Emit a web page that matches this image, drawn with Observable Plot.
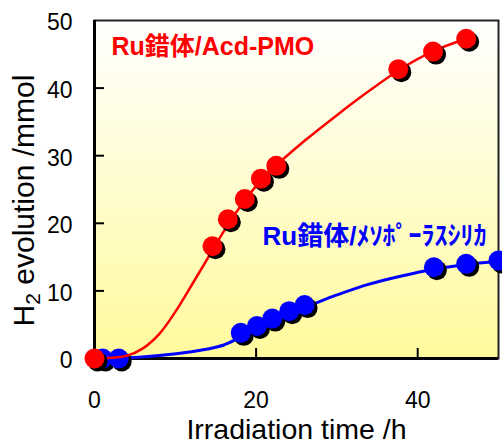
<!DOCTYPE html>
<html><head><meta charset="utf-8">
<script src="https://cdn.jsdelivr.net/npm/d3@7"></script>
<script src="https://cdn.jsdelivr.net/npm/@observablehq/plot@0.6"></script>
<style>body{margin:0;background:#fff}</style>
</head><body><div id="chart"></div>
<script>
// measured points
const redX = [0, 14.6, 16.5, 18.6, 20.6, 22.5, 37.6, 41.9, 46.0];
const redY = [0, 16.6, 20.6, 23.6, 26.6, 28.5, 42.8, 45.4, 47.3];
const blueX = [1, 3, 18.1, 20.1, 22.0, 24.1, 26.0, 42.0, 46.0, 50.0];
const blueY = [0, 0, 3.8, 4.8, 5.9, 7.0, 7.9, 13.5, 14.0, 14.5];
// fitted curves
const redFitX = [0, 2, 4, 6, 8, 10, 12, 14, 16, 18, 20, 22, 26, 30, 34, 38, 42, 46];
const redFitY = [0, 0.1, 0.4, 1.5, 3.6, 6.9, 10.8, 14.8, 18.8, 22.4, 25.5, 28.0, 32.2, 36.0, 39.6, 42.9, 45.5, 47.3];
const blueFitX = [0, 4, 8, 12, 14, 16, 18, 20, 22, 24, 26, 28, 30, 34, 38, 42, 46, 50];
const blueFitY = [0, 0.1, 0.45, 1.0, 1.4, 2.0, 3.1, 4.2, 5.3, 6.4, 7.5, 8.5, 9.4, 11.0, 12.2, 13.2, 13.9, 14.4];
const xTicks = [0, 20, 40];
const yTicks = [0, 10, 20, 30, 40, 50];
const seriesNames = ["Ru錯体/Acd-PMO", "Ru錯体/ﾒｿﾎﾟｰﾗｽｼﾘｶ"];
const xLabel = "Irradiation time /h";
const yLabelParts = ["H", "2", " evolution /mmol"];

const zip = (xs, ys) => xs.map((x, i) => ({x, y: ys[i]}));
const red = zip(redX, redY), blue = zip(blueX, blueY);
const redFit = zip(redFitX, redFitY), blueFit = zip(blueFitX, blueFitY);
const RED = "#ff0000", BLUE = "#0000ff";
const font = "'Liberation Sans', Arial, 'Noto Sans CJK JP', sans-serif";

const plot = Plot.plot({
  width: 502, height: 444,
  marginLeft: 94, marginRight: 4, marginTop: 20, marginBottom: 86,
  x: {domain: [0, 50]},
  y: {domain: [0, 50]},
  style: {fontFamily: font, background: "transparent", overflow: "visible", color: "black"},
  marks: [
    Plot.frame({fill: "url(#bgGrad)", stroke: null}),
    Plot.tickY(yTicks.slice(1, -1), {y: d => d, stroke: "black", strokeWidth: 2, insetRight: 394}),
    Plot.tickX(xTicks.slice(1), {x: d => d, stroke: "black", strokeWidth: 2, insetTop: 328}),
    Plot.frame({stroke: "#222", strokeWidth: 2}),
    Plot.ruleX([0], {stroke: "black", strokeWidth: 3}),
    Plot.ruleY([0], {stroke: "black", strokeWidth: 3}),
    Plot.axisX(xTicks, {tickSize: 0, tickPadding: 33, fontSize: 23, label: null}),
    Plot.axisY(yTicks, {tickSize: 0, tickPadding: 22, fontSize: 23, dy: 2.5, label: null}),
    Plot.text([xLabel], {text: d => d, frameAnchor: "bottom", dy: 80, lineAnchor: "bottom", textAnchor: "middle", fontSize: 28.5, fill: "black"}),
    Plot.text([yLabelParts.join("")], {text: d => d, frameAnchor: "left", dx: -61, dy: 11, rotate: -90, textAnchor: "middle", lineAnchor: "bottom", fontSize: 30, fill: "black"}),
    // blue series
    Plot.line(blueFit, {x: "x", y: "y", stroke: BLUE, strokeWidth: 3, curve: "catmull-rom"}),
    Plot.dot(blue, {x: "x", y: "y", r: 10, fill: "black", dx: 3, dy: 3}),
    Plot.dot(blue, {x: "x", y: "y", r: 10, fill: BLUE}),
    // red series
    Plot.line(redFit, {x: "x", y: "y", stroke: RED, strokeWidth: 2.5, curve: "catmull-rom"}),
    Plot.dot(red, {x: "x", y: "y", r: 10, fill: "black", dx: 3, dy: 3}),
    Plot.dot(red, {x: "x", y: "y", r: 10, fill: RED}),
    Plot.text([seriesNames[0]], {text: d => d, frameAnchor: "top-left", dx: 17, dy: 26.5, textAnchor: "start", lineAnchor: "middle", fill: RED, fontSize: 25, fontWeight: "bold"}),
    Plot.text([seriesNames[1]], {text: d => d, frameAnchor: "top-left", dx: 168, dy: 216, textAnchor: "start", lineAnchor: "middle", fill: BLUE, fontSize: 26, fontWeight: "bold"})
  ]
});

const ns = "http://www.w3.org/2000/svg";
const defs = document.createElementNS(ns, "defs");
defs.innerHTML = '<linearGradient id="bgGrad" x1="0" y1="0" x2="0" y2="1"><stop offset="0" stop-color="#ffffff"/><stop offset="1" stop-color="#fffa9c"/></linearGradient>';
plot.prepend(defs);

// subscript in y label
plot.querySelectorAll("text").forEach(t => {
  if (t.textContent === yLabelParts.join("")) {
    t.textContent = "";
    t.appendChild(document.createTextNode(yLabelParts[0]));
    const sub = document.createElementNS(ns, "tspan");
    sub.setAttribute("font-size", "0.7em");
    sub.setAttribute("dy", "0.3em");
    sub.textContent = yLabelParts[1];
    t.appendChild(sub);
    const rest = document.createElementNS(ns, "tspan");
    rest.setAttribute("dy", "-0.21em");
    rest.textContent = yLabelParts[2];
    t.appendChild(rest);
  }
});
document.getElementById("chart").appendChild(plot);
</script>
</body></html>
